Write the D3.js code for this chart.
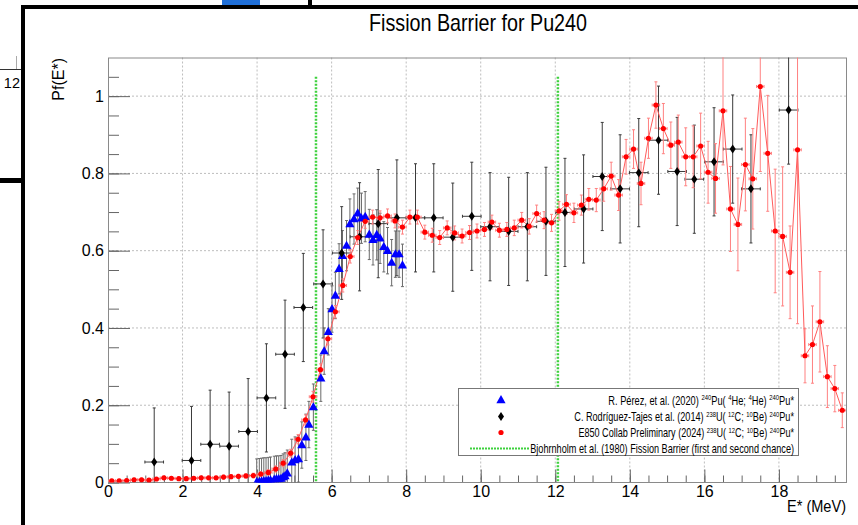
<!DOCTYPE html>
<html>
<head>
<meta charset="utf-8">
<script src="https://cdn.jsdelivr.net/npm/d3@7/dist/d3.min.js"></script>
<style>
  body { margin: 0; background: #fff; }
  svg { display: block; font-family: "Liberation Sans", Arial, Helvetica, sans-serif; }
</style>
</head>
<body>
<div id="chart"></div>
<script>
// ---- data ----

// E850 Collab Preliminary (2024), red
const redEnergy = [
  0.1, 0.3, 0.5, 0.7, 0.9, 1.1, 1.3, 1.5, 1.7, 1.9,
  2.1, 2.3, 2.5, 2.7, 2.9, 3.1, 3.3, 3.5, 3.7, 3.9,
  4.1, 4.3, 4.5, 4.7, 4.9, 5.1, 5.3, 5.5, 5.7, 5.9,
  6.1, 6.3, 6.5, 6.7, 6.9, 7.1, 7.3, 7.5, 7.7, 7.9,
  8.1, 8.3, 8.5, 8.7, 8.9, 9.1, 9.3, 9.5, 9.7, 9.9,
  10.1, 10.3, 10.5, 10.7, 10.9, 11.1, 11.3, 11.5, 11.7, 11.9,
  12.1, 12.3, 12.5, 12.7, 12.9, 13.1, 13.3, 13.5, 13.7, 13.9,
  14.1, 14.3, 14.5, 14.7, 14.9, 15.1, 15.3, 15.5, 15.7, 15.9,
  16.1, 16.3, 16.5, 16.7, 16.9, 17.1, 17.3, 17.5, 17.7, 17.9,
  18.1, 18.3, 18.5, 18.7, 18.9, 19.1, 19.3, 19.5, 19.7
];
const redPf = [
  0.004, 0.004, 0.005, 0.007, 0.007, 0.006, 0.009, 0.012, 0.011, 0.010,
  0.010, 0.011, 0.012, 0.012, 0.012, 0.014, 0.015, 0.016, 0.017, 0.018,
  0.022, 0.026, 0.035, 0.050, 0.076, 0.112, 0.162, 0.222, 0.292, 0.372,
  0.442, 0.510, 0.585, 0.634, 0.676, 0.687, 0.685, 0.690, 0.677, 0.661,
  0.687, 0.687, 0.648, 0.640, 0.634, 0.659, 0.646, 0.638, 0.647, 0.651,
  0.655, 0.674, 0.653, 0.655, 0.659, 0.679, 0.663, 0.696, 0.679, 0.672,
  0.703, 0.720, 0.698, 0.718, 0.733, 0.731, 0.760, 0.793, 0.744, 0.843,
  0.863, 0.774, 0.891, 0.977, 0.916, 0.873, 0.881, 0.843, 0.843, 0.871,
  0.803, 0.787, 0.962, 0.708, 0.668, 0.823, 0.786, 1.025, 0.852, 0.651,
  0.637, 0.544, 0.861, 0.328, 0.357, 0.416, 0.274, 0.243, 0.187
];
const redErr = [
  0.004, 0.004, 0.004, 0.004, 0.004, 0.004, 0.004, 0.004, 0.004, 0.004,
  0.004, 0.004, 0.004, 0.004, 0.004, 0.005, 0.005, 0.005, 0.005, 0.006,
  0.006, 0.007, 0.008, 0.009, 0.010, 0.012, 0.013, 0.014, 0.015, 0.016,
  0.016, 0.017, 0.017, 0.018, 0.018, 0.018, 0.018, 0.018, 0.018, 0.018,
  0.018, 0.018, 0.018, 0.018, 0.018, 0.018, 0.018, 0.018, 0.018, 0.018,
  0.018, 0.018, 0.018, 0.018, 0.020, 0.020, 0.020, 0.022, 0.022, 0.022,
  0.024, 0.025, 0.025, 0.026, 0.028, 0.030, 0.032, 0.036, 0.040, 0.045,
  0.050, 0.055, 0.052, 0.060, 0.065, 0.060, 0.070, 0.075, 0.080, 0.085,
  0.080, 0.090, 0.140, 0.110, 0.120, 0.120, 0.130, 0.220, 0.150, 0.160,
  0.180, 0.120, 0.450, 0.070, 0.100, 0.130, 0.080, 0.060, 0.045
];
const redEnergyErr = 0.1;

// R. Perez et al. (2020), blue
const blueEnergy = [
  3.99, 4.06, 4.12, 4.18, 4.24, 4.30, 4.36, 4.46, 4.52, 4.58,
  4.64, 4.70, 4.75, 4.81, 4.93, 5.02, 5.11, 5.20, 5.31, 5.39,
  5.51, 5.71, 5.80, 5.91, 6.01, 6.10, 6.20, 6.29, 6.40, 6.49,
  6.60, 6.70, 6.80, 6.90, 7.01, 7.11, 7.21, 7.30, 7.40, 7.50,
  7.61, 7.71, 7.81, 7.90
];
const bluePf = [
  0.001, 0.002, 0.003, 0.004, 0.004, 0.005, 0.006, 0.008, 0.009, 0.009,
  0.010, 0.014, 0.017, 0.024, 0.052, 0.058, 0.061, 0.097, 0.117, 0.150,
  0.195, 0.270, 0.340, 0.390, 0.449, 0.484, 0.553, 0.587, 0.613, 0.669,
  0.682, 0.697, 0.684, 0.688, 0.642, 0.628, 0.641, 0.632, 0.610, 0.600,
  0.569, 0.591, 0.591, 0.562
];
const blueErr = [
  0.060, 0.060, 0.060, 0.060, 0.060, 0.060, 0.060, 0.060, 0.060, 0.060,
  0.060, 0.060, 0.060, 0.060, 0.060, 0.060, 0.060, 0.060, 0.060, 0.060,
  0.060, 0.060, 0.060, 0.060, 0.060, 0.060, 0.065, 0.065, 0.065, 0.065,
  0.065, 0.065, 0.065, 0.065, 0.065, 0.065, 0.065, 0.065, 0.065, 0.060,
  0.060, 0.060, 0.060, 0.055
];

// C. Rodriguez-Tajes et al. (2014), black
const blackEnergy = [
  1.24, 2.24, 2.74, 3.25, 3.76, 4.25, 4.75, 5.24, 5.77, 6.27,
  6.75, 7.25, 7.75, 8.25, 8.74, 9.25, 9.76, 10.25, 10.75, 11.25,
  11.75, 12.26, 12.76, 13.26, 13.74, 14.24, 14.77, 15.27, 15.73, 16.26,
  16.76, 17.25, 18.26
];
const blackPf = [
  0.053, 0.057, 0.099, 0.094, 0.132, 0.219, 0.332, 0.453, 0.514, 0.594,
  0.636, 0.670, 0.685, 0.685, 0.685, 0.635, 0.689, 0.662, 0.650, 0.662,
  0.676, 0.699, 0.708, 0.792, 0.760, 0.802, 0.886, 0.805, 0.785, 0.830,
  0.863, 0.760, 0.964
];
const blackErr = [
  0.140, 0.140, 0.140, 0.140, 0.137, 0.140, 0.140, 0.140, 0.140, 0.120,
  0.140, 0.140, 0.150, 0.140, 0.140, 0.140, 0.140, 0.140, 0.140, 0.140,
  0.140, 0.140, 0.140, 0.140, 0.140, 0.140, 0.140, 0.140, 0.140, 0.140,
  0.140, 0.140, 0.140
];
const blackEnergyErr = 0.25;

// Bjohrnholm et al. (1980) barriers
const barrierEnergy = [5.58, 12.07];
const barrierTop = 1.05;

// axes
const xMajorTicks = [0, 2, 4, 6, 8, 10, 12, 14, 16, 18];
const yMajorTicks = [0, 0.2, 0.4, 0.6, 0.8, 1];

const legendLabels = [
  "R. Pérez, et al. (2020)  ^{240}Pu( ^{4}He; ^{4}He) ^{240}Pu*",
  "C. Rodríguez-Tajes et al. (2014)  ^{238}U( ^{12}C; ^{10}Be) ^{240}Pu*",
  "E850 Collab Preliminary (2024)  ^{238}U( ^{12}C; ^{10}Be) ^{240}Pu*",
  "Bjohrnholm et al. (1980) Fission Barrier (first and second chance)"
];

function draw() {
  const dimensions = {
    width: 858,
    height: 525,
    margin: { left: 108, right: 12, top: 57.5, bottom: 42.5 },
  };
  dimensions.ctrWidth = dimensions.width - dimensions.margin.left - dimensions.margin.right;
  dimensions.ctrHeight = dimensions.height - dimensions.margin.top - dimensions.margin.bottom;

  const svg = d3
    .select("#chart")
    .append("svg")
    .attr("width", dimensions.width)
    .attr("height", dimensions.height);

  //Screen leftovers around the canvas ======
  const bg = svg.append("g");
  bg.append("line").attr("x1", 0).attr("x2", 21).attr("y1", 69.5).attr("y2", 69.5)
    .attr("stroke", "#333");
  bg.append("line").attr("x1", 16.5).attr("x2", 16.5).attr("y1", 56).attr("y2", 69)
    .attr("stroke", "#aaa");
  bg.append("text").text("12").attr("x", 20).attr("y", 88)
    .attr("text-anchor", "end").style("font-size", "14.5px");
  bg.append("rect").attr("x", 0).attr("y", 178).attr("width", 21).attr("height", 5).attr("fill", "#000");
  bg.append("rect").attr("x", 222).attr("y", 0).attr("width", 38).attr("height", 5).attr("fill", "#1f6fd8");
  bg.append("rect").attr("x", 308).attr("y", 0).attr("width", 4).attr("height", 8).attr("fill", "#000");
  bg.append("rect").attr("x", 21).attr("y", 5).attr("width", 837).attr("height", 4).attr("fill", "#000");
  bg.append("rect").attr("x", 21).attr("y", 5).attr("width", 4).attr("height", 520).attr("fill", "#000");

  //Scales ==========
  const xScale = d3
    .scaleLinear()
    .domain([0, 19.8])
    .range([dimensions.margin.left, dimensions.margin.left + dimensions.ctrWidth]);

  const yScale = d3
    .scaleLinear()
    .domain([0, 1.1])
    .range([dimensions.margin.top + dimensions.ctrHeight, dimensions.margin.top]);

  const x0 = xScale.range()[0], x1 = xScale.range()[1];
  const yb = yScale.range()[0], yt = yScale.range()[1];

  svg.append("defs").append("clipPath").attr("id", "frame-clip")
    .append("rect")
    .attr("x", x0).attr("y", yt)
    .attr("width", x1 - x0).attr("height", yb - yt);

  //Grid ==========
  const grid = svg.append("g").attr("stroke", "#bdbdbd").attr("stroke-dasharray", "2,2");
  grid.selectAll(".gx")
    .data(xMajorTicks.filter((d) => d > 0))
    .join("line")
    .attr("x1", (d) => xScale(d)).attr("x2", (d) => xScale(d))
    .attr("y1", yt).attr("y2", yb);
  grid.selectAll(".gy")
    .data(yMajorTicks.filter((d) => d > 0))
    .join("line")
    .attr("x1", x0).attr("x2", x1)
    .attr("y1", (d) => yScale(d)).attr("y2", (d) => yScale(d));

  //Axes ==========
  const xMinor = d3.range(0, 19.8, 0.5);
  const yMinor = d3.range(0, 1.1, 0.05);

  svg.append("g").attr("transform", `translate(0,${yb})`)
    .call(d3.axisBottom(xScale).tickValues(xMinor).tickSize(-7).tickSizeOuter(0).tickFormat(""));
  svg.append("g").attr("transform", `translate(0,${yb})`)
    .call(d3.axisBottom(xScale).tickValues(xMajorTicks).tickSize(-13).tickSizeOuter(0)
      .tickPadding(3).tickFormat(d3.format("~g")));

  svg.append("g").attr("transform", `translate(${x0},0)`)
    .call(d3.axisLeft(yScale).tickValues(yMinor).tickSize(-11).tickSizeOuter(0).tickFormat(""));
  svg.append("g").attr("transform", `translate(${x0},0)`)
    .call(d3.axisLeft(yScale).tickValues(yMajorTicks).tickSize(-22).tickSizeOuter(0)
      .tickPadding(4).tickFormat(d3.format("~g")));

  svg.selectAll(".tick line").attr("stroke", "#666");
  svg.selectAll(".domain").remove();
  svg.selectAll(".tick text")
    .style("font-size", "16px")
    .style("font-family", "'Liberation Sans', Arial, sans-serif")
    .attr("fill", "#000");

  // frame
  svg.append("rect")
    .attr("x", x0 + 0.5).attr("y", yt + 0.5)
    .attr("width", x1 - x0).attr("height", yb - yt - 0.5)
    .attr("fill", "none").attr("stroke", "#8a8a8a");

  //Plot group (clipped to the frame) ==========
  const ctr = svg.append("g").attr("clip-path", "url(#frame-clip)");

  // barrier lines
  ctr.selectAll(".barrier")
    .data(barrierEnergy)
    .join("line")
    .attr("x1", (d) => xScale(d)).attr("x2", (d) => xScale(d))
    .attr("y1", yScale(barrierTop)).attr("y2", yb)
    .attr("stroke", "#3dd13d").attr("stroke-width", 2.5)
    .attr("stroke-dasharray", "2,1.5");

  const blueData = blueEnergy.map((e, i) => ({ e, v: bluePf[i], err: blueErr[i] }));
  const blackData = blackEnergy.map((e, i) => ({ e, v: blackPf[i], err: blackErr[i] }));
  const redData = redEnergy.map((e, i) => ({ e, v: redPf[i], err: redErr[i] }));

  // vertical + horizontal error bars with small end caps
  function errorBars(data, xErr, color, width) {
    const g = ctr.append("g").attr("stroke", color).attr("stroke-width", width).attr("fill", "none");
    g.selectAll("path")
      .data(data)
      .join("path")
      .attr("d", (d) => {
        const cx = xScale(d.e), cy = yScale(d.v);
        const top = yScale(d.v + d.err), bot = yScale(d.v - d.err);
        let p = `M${cx},${top}V${bot}M${cx - 1.5},${top}H${cx + 1.5}M${cx - 1.5},${bot}H${cx + 1.5}`;
        if (xErr > 0) {
          const l = xScale(d.e - xErr), r = xScale(d.e + xErr);
          p += `M${l},${cy}H${r}M${l},${cy - 1.5}V${cy + 1.5}M${r},${cy - 1.5}V${cy + 1.5}`;
        }
        return p;
      });
  }

  errorBars(blueData, 0, "#6a6a6a", 1);
  errorBars(blackData, blackEnergyErr, "#3a3a3a", 1);
  errorBars(redData, redEnergyErr, "#ff8080", 1);

  // red connecting line
  ctr.append("path")
    .datum(redData)
    .attr("fill", "none")
    .attr("stroke", "#ff5a5a")
    .attr("stroke-width", 1)
    .attr("d", d3.line().x((d) => xScale(d.e)).y((d) => yScale(d.v)));

  const triangle = "M0,-5L4.6,3.2L-4.6,3.2Z";
  const diamond = "M0,-4.5L3,0L0,4.5L-3,0Z";

  ctr.append("g").selectAll("path")
    .data(blueData)
    .join("path")
    .attr("d", triangle)
    .attr("transform", (d) => `translate(${xScale(d.e)},${yScale(d.v)})`)
    .attr("fill", "#0000ff");

  ctr.append("g").selectAll("path")
    .data(blackData)
    .join("path")
    .attr("d", diamond)
    .attr("transform", (d) => `translate(${xScale(d.e)},${yScale(d.v)})`)
    .attr("fill", "#000");

  ctr.append("g").selectAll("circle")
    .data(redData)
    .join("circle")
    .attr("cx", (d) => xScale(d.e))
    .attr("cy", (d) => yScale(d.v))
    .attr("r", 2.6)
    .attr("fill", "#ff0000");

  //Titles ==========
  svg.append("text")
    .text("Fission Barrier for Pu240")
    .attr("x", 478).attr("y", 31)
    .attr("text-anchor", "middle")
    .attr("textLength", 218).attr("lengthAdjust", "spacingAndGlyphs")
    .style("font-size", "24px");

  svg.append("text")
    .text("Pf(E*)")
    .attr("transform", "translate(64,58) rotate(-90)")
    .attr("text-anchor", "end")
    .style("font-size", "16px");

  svg.append("text")
    .text("E* (MeV)")
    .attr("x", 846).attr("y", 512)
    .attr("text-anchor", "end")
    .attr("textLength", 59).attr("lengthAdjust", "spacingAndGlyphs")
    .style("font-size", "16px");

  //Legend ==========
  const legend = svg.append("g");
  legend.append("rect")
    .attr("x", 458.5).attr("y", 388.5).attr("width", 340).attr("height", 67)
    .attr("fill", "#fff").attr("stroke", "#777");

  const rowY = [400, 416.5, 432.5, 448.5];
  const mx = 501;
  legend.append("path").attr("d", triangle).attr("transform", `translate(${mx},${rowY[0]})`).attr("fill", "#0000ff");
  legend.append("path").attr("d", diamond).attr("transform", `translate(${mx},${rowY[1]})`).attr("fill", "#000");
  legend.append("circle").attr("cx", mx).attr("cy", rowY[2]).attr("r", 2.6).attr("fill", "#ff0000");
  legend.append("line").attr("x1", 470).attr("x2", 530).attr("y1", rowY[3]).attr("y2", rowY[3])
    .attr("stroke", "#3dd13d").attr("stroke-width", 2).attr("stroke-dasharray", "2,1");

  // rich text with ^{...} superscripts, squeezed to the width seen in the picture
  const rowWidth = [186, 220, 216, 264];
  legendLabels.forEach((label, i) => {
    const g = legend.append("g");
    const t = g.append("text").attr("x", 0).attr("y", 0).attr("text-anchor", "end")
      .style("font-size", "12.5px");
    let raised = false;
    label.split(/(\^\{[^}]*\})/).forEach((part) => {
      if (!part) return;
      if (part.startsWith("^{")) {
        t.append("tspan").text(part.slice(2, -1))
          .attr("dy", raised ? 0 : -4.5).style("font-size", "8px");
        raised = true;
      } else {
        t.append("tspan").text(part).attr("dy", raised ? 4.5 : 0);
        raised = false;
      }
    });
    const w = t.node().getBBox().width;
    g.attr("transform", `translate(794,${rowY[i] + 4.5}) scale(${rowWidth[i] / w},1)`);
  });
}

draw();
</script>
</body>
</html>
